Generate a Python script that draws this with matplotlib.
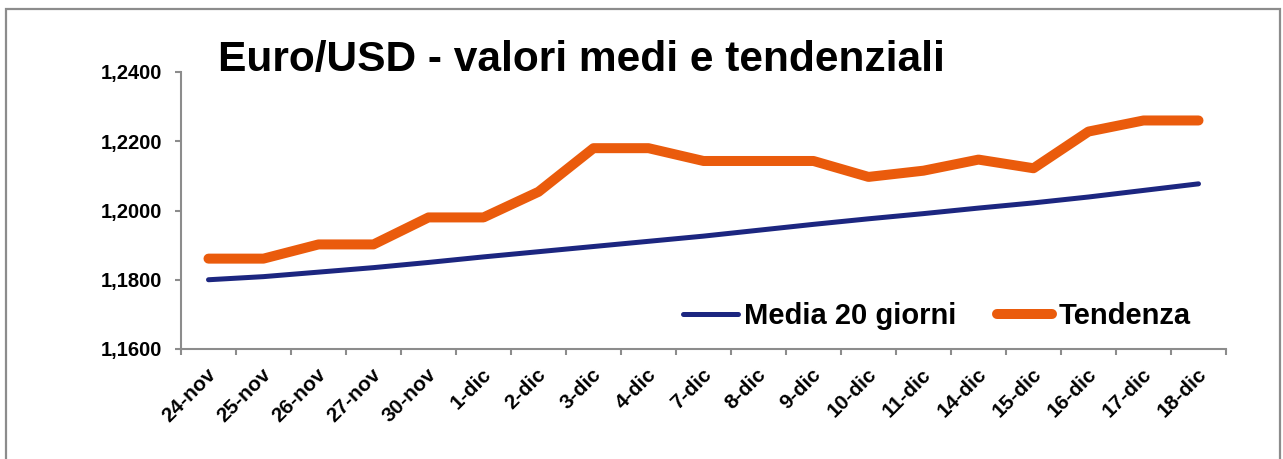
import matplotlib
matplotlib.use("Agg")
import matplotlib.pyplot as plt
import matplotlib.transforms as mtransforms
from matplotlib.patches import Rectangle
from matplotlib.ticker import FuncFormatter

plt.rcParams['font.family'] = ['Liberation Sans', 'DejaVu Sans']

categories = ["24-nov", "25-nov", "26-nov", "27-nov", "30-nov", "1-dic", "2-dic", "3-dic",
              "4-dic", "7-dic", "8-dic", "9-dic", "10-dic", "11-dic", "14-dic", "15-dic",
              "16-dic", "17-dic", "18-dic"]
media_20 = [1.1800, 1.1809, 1.1822, 1.1835, 1.1850, 1.1866, 1.1881, 1.1896, 1.1911, 1.1926,
            1.1943, 1.1960, 1.1976, 1.1991, 1.2007, 1.2022, 1.2039, 1.2058, 1.2077]
tendenza = [1.1861, 1.1861, 1.1902, 1.1902, 1.1980, 1.1980, 1.2054, 1.2180, 1.2180, 1.2143,
            1.2143, 1.2143, 1.2097, 1.2115, 1.2147, 1.2122, 1.2228, 1.2260, 1.2260]
y_ticks = [1.16, 1.18, 1.20, 1.22, 1.24]
title = "Euro/USD - valori medi e tendenziali"
series_names = ["Media 20 giorni", "Tendenza"]

W, H = 1283, 459
fig = plt.figure(figsize=(W / 100, H / 100), dpi=100)
fig.patch.set_facecolor('white')

# outer chart border
fig.patches.append(Rectangle((6 / W, -0.05), (1280 - 6) / W, (H - 9) / H + 0.05,
                             transform=fig.transFigure, fill=False,
                             edgecolor='#8c8c8c', linewidth=1.6, clip_on=False))

ax = fig.add_axes([181 / W, 1 - 349 / H, (1226 - 181) / W, (349 - 72) / H])
x = list(range(len(categories)))
navy = '#1c2680'
orange = '#ea5b0c'
ax.plot(x, media_20, color=navy, lw=3.6, solid_capstyle='round', solid_joinstyle='round',
        label=series_names[0], zorder=3)
ax.plot(x, tendenza, color=orange, lw=7.2, solid_capstyle='round', solid_joinstyle='round',
        label=series_names[1], zorder=4)

ax.set_xlim(-0.5, len(categories) - 0.5)
ax.set_ylim(y_ticks[0], y_ticks[-1])
ax.set_yticks(y_ticks)
ax.yaxis.set_major_formatter(FuncFormatter(lambda v, p: f"{v:.4f}".replace('.', ',')))

for s in ['top', 'right']:
    ax.spines[s].set_visible(False)
for s in ['left', 'bottom']:
    ax.spines[s].set_color('#8c8c8c')
    ax.spines[s].set_linewidth(1.5)

ax.set_xticks([i - 0.5 for i in range(len(categories) + 1)])
ax.set_xticklabels([])
ax.set_xticks(x, minor=True)
ax.set_xticklabels(categories, minor=True, rotation=45, ha='right', va='top',
                   rotation_mode='anchor', fontsize=15, fontweight='bold')
ax.tick_params(axis='x', which='major', length=4.5, width=1.5, color='#8c8c8c', direction='out')
ax.tick_params(axis='x', which='minor', length=0, pad=11.5)
ax.tick_params(axis='y', length=4.5, width=1.5, color='#8c8c8c', direction='out', pad=9,
               labelsize=14.5)
for lbl in ax.get_yticklabels():
    lbl.set_fontweight('bold')
offset = mtransforms.ScaledTranslation(-2 / 100, 0, fig.dpi_scale_trans)
for lbl in ax.xaxis.get_minorticklabels():
    lbl.set_transform(lbl.get_transform() + offset)

fig.text(218 / W, 1 - 71 / H, title, fontsize=30.6, fontweight='bold', ha='left',
         va='baseline')

leg = ax.legend(loc='center', bbox_to_anchor=(0.723, 0.12), ncol=2, frameon=False,
                prop={'size': 21, 'weight': 'bold'}, handlelength=1.9, handletextpad=0.2,
                columnspacing=1.4, borderpad=0)

fig.savefig('out.png', dpi=100, facecolor='white')
